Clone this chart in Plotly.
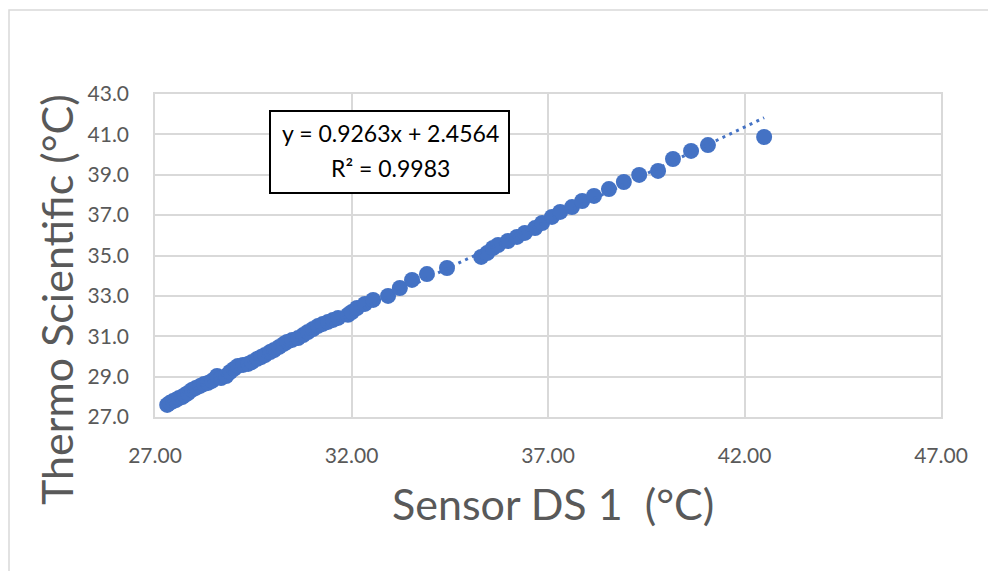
import plotly.graph_objects as go

# Data
sensor_ds1 = [27.31, 27.38, 27.46, 27.53, 27.61, 27.69, 27.76, 27.84, 27.94, 28.04,
              28.15, 28.25, 28.35, 28.45, 28.58, 28.68, 28.81, 28.91, 29.01, 29.11,
              29.24, 29.37, 29.47, 29.60, 29.70, 29.80, 29.93, 30.03, 30.16, 30.28,
              30.36, 30.49, 30.64, 30.77, 30.89, 31.02, 31.15, 31.27, 31.40, 31.53,
              31.66, 31.91, 32.01, 32.14, 32.34, 32.55, 32.93, 33.23, 33.54, 33.92,
              34.43, 35.30, 35.45, 35.60, 35.73, 35.98, 36.21, 36.41, 36.67, 36.85,
              37.10, 37.31, 37.61, 37.87, 38.17, 38.55, 38.93, 39.32, 39.80, 40.18,
              40.64, 41.07, 42.50]
thermo_scientific = [27.60, 27.70, 27.79, 27.84, 27.94, 27.99, 28.09, 28.19, 28.34, 28.44,
                     28.54, 28.64, 28.69, 28.79, 29.03, 28.93, 29.03, 29.23, 29.38, 29.53,
                     29.58, 29.63, 29.73, 29.88, 29.97, 30.07, 30.22, 30.32, 30.47, 30.62,
                     30.72, 30.82, 30.91, 31.06, 31.21, 31.36, 31.51, 31.61, 31.71, 31.81,
                     31.91, 32.06, 32.20, 32.40, 32.60, 32.80, 33.00, 33.39, 33.79, 34.08,
                     34.38, 34.93, 35.12, 35.37, 35.52, 35.72, 35.92, 36.12, 36.36, 36.61,
                     36.91, 37.16, 37.40, 37.70, 37.95, 38.29, 38.64, 38.99, 39.19, 39.78,
                     40.18, 40.47, 40.87]

slope = 0.9263
intercept = 2.4564
r_squared = 0.9983

x_ticks = [27, 32, 37, 42, 47]
y_ticks = [27, 29, 31, 33, 35, 37, 39, 41, 43]

blue = "#4472C4"
grid = "#D9D9D9"
tick_col = "#595959"
font_main = "Lato"

# plot area in screen pixels: x 155..941, y 94..417
PL, PR, PT, PB = 155, 941, 94, 417
PW, PH = PR - PL, PB - PT


def px(xs):
    return (xs - PL) / PW


def py(ys):
    return (PB - ys) / PH


fig = go.Figure()
fig.add_trace(go.Scatter(
    x=sensor_ds1, y=thermo_scientific, mode="markers",
    marker=dict(size=16, color=blue, line=dict(width=0)),
    showlegend=False, hoverinfo="x+y"))

x_min, x_max = min(sensor_ds1), max(sensor_ds1)
fig.add_trace(go.Scatter(
    x=[x_min, x_max], y=[slope * x_min + intercept, slope * x_max + intercept],
    mode="lines", line=dict(color=blue, width=3, dash="3px,4.5px"),
    showlegend=False, hoverinfo="skip"))

# Equation box
fig.add_shape(type="rect", xref="paper", yref="paper",
              x0=px(270), x1=px(509), y0=py(193), y1=py(111),
              line=dict(color="black", width=2), fillcolor="white", layer="above")
fig.add_annotation(xref="paper", yref="paper", x=px(390), y=py(133),
                   xanchor="center", yanchor="middle",
                   text=f"y = {slope}x + {intercept}", showarrow=False,
                   font=dict(family=font_main, size=23, color="black"))
fig.add_annotation(xref="paper", yref="paper", x=px(390), y=py(168),
                   xanchor="center", yanchor="middle",
                   text=f"R² = {r_squared}", showarrow=False,
                   font=dict(family=font_main, size=23, color="black"))

# Axis titles
fig.add_annotation(xref="paper", yref="paper", x=px(553), y=py(503),
                   xanchor="center", yanchor="middle",
                   text="Sensor DS 1  (°C)", showarrow=False,
                   font=dict(family=font_main, size=43, color=tick_col))
fig.add_annotation(xref="paper", yref="paper", x=px(56), y=py(300),
                   xanchor="center", yanchor="middle",
                   text="Thermo Scientific (°C)", showarrow=False, textangle=-90,
                   font=dict(family=font_main, size=43, color=tick_col))

# Outer chart border (the figure begins 8px in from the page edge)
fig.add_shape(type="rect", xref="paper", yref="paper",
              x0=px(9), x1=px(1010), y0=py(590), y1=py(10),
              line=dict(color=grid, width=1.5), fillcolor="rgba(0,0,0,0)", layer="below")

# page body has an 8px default margin, compensate in the figure margins
fig.update_layout(
    width=996, height=571,
    margin=dict(l=PL - 8, r=996 - (PL - 8) - PW, t=PT - 8, b=571 - (PT - 8) - PH),
    paper_bgcolor="white", plot_bgcolor="white",
    font=dict(family=font_main, color=tick_col),
)
fig.update_xaxes(range=[27, 47], tickvals=x_ticks, ticktext=[f"{v:.2f}" for v in x_ticks],
                 showgrid=True, gridcolor=grid, gridwidth=1.5, zeroline=False,
                 showline=True, linecolor=grid, linewidth=1.5, mirror=True,
                 ticks="outside", ticklen=19, tickcolor="rgba(0,0,0,0)",
                 tickfont=dict(family=font_main, size=21, color=tick_col))
fig.update_yaxes(range=[27, 43], tickvals=y_ticks, ticktext=[f"{v:.1f}" for v in y_ticks],
                 showgrid=True, gridcolor=grid, gridwidth=1.5, zeroline=False,
                 showline=True, linecolor=grid, linewidth=1.5, mirror=True,
                 ticks="outside", ticklen=20, tickcolor="rgba(0,0,0,0)",
                 tickfont=dict(family=font_main, size=21, color=tick_col))

fig.write_html("out.html")
